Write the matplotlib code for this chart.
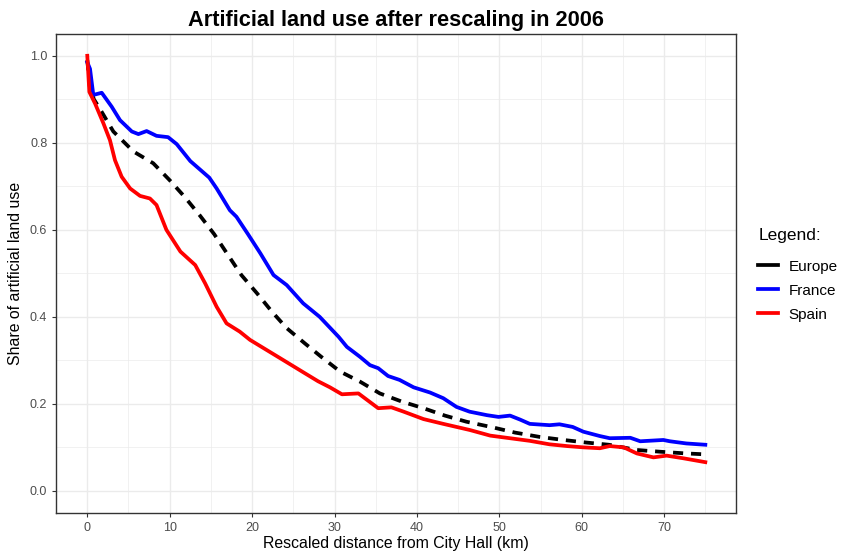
import matplotlib.pyplot as plt
from matplotlib.lines import Line2D

plt.rcParams['font.family'] = ['Liberation Sans', 'DejaVu Sans']

# Valores
france_x = [0, 0.33, 0.73, 1.75, 2.96, 3.97, 5.4, 6.2, 7.2, 8.4, 9.8, 10.85, 12.5, 14.8, 15.7,
            17.3, 18.1, 19.5, 21.0, 22.6, 24.2, 26.2, 28.2, 30.5, 31.5, 33.1, 34.3, 35.3, 36.5,
            37.9, 39.6, 41.6, 43.2, 44.8, 46.4, 48.5, 49.9, 51.3, 52.5, 53.7, 56.1, 57.3, 58.9,
            60.2, 62.2, 63.4, 65.9, 67.1, 69.9, 70.7, 72.7, 75.0]
france_y = [0.985, 0.97, 0.91, 0.915, 0.883, 0.852, 0.826, 0.82, 0.827, 0.816, 0.813, 0.797,
            0.758, 0.72, 0.695, 0.645, 0.63, 0.59, 0.546, 0.496, 0.473, 0.431, 0.4, 0.354, 0.331,
            0.308, 0.289, 0.282, 0.264, 0.255, 0.238, 0.226, 0.213, 0.193, 0.182, 0.174, 0.17,
            0.173, 0.164, 0.154, 0.151, 0.153, 0.147, 0.136, 0.126, 0.121, 0.122, 0.114, 0.117,
            0.114, 0.109, 0.106]

europe_x = [0, 0.3, 0.8, 1.75, 3.16, 5.6, 8.0, 10.0, 11.8, 13.7, 15.4, 16.8, 18.7, 20.6, 22.4,
            24.2, 26.4, 28.4, 30.7, 33.1, 35.5, 38.2, 40.8, 43.4, 46.0, 49.2, 51.9, 54.9, 57.8,
            60.6, 63.3, 66.7, 69.5, 72.7, 75.0]
europe_y = [0.99, 0.93, 0.9, 0.871, 0.826, 0.78, 0.753, 0.714, 0.676, 0.632, 0.59, 0.55, 0.496,
            0.454, 0.412, 0.374, 0.339, 0.308, 0.274, 0.251, 0.224, 0.205, 0.19, 0.173, 0.159,
            0.146, 0.134, 0.124, 0.117, 0.111, 0.106, 0.094, 0.09, 0.086, 0.084]

spain_x = [0, 0.25, 0.95, 1.95, 2.75, 3.36, 4.17, 5.2, 6.4, 7.6, 8.4, 9.6, 11.3, 13.1, 14.3,
           15.7, 16.9, 18.5, 19.75, 21.4, 23.4, 26.0, 28.0, 29.45, 30.9, 32.9, 35.3, 36.9, 38.4,
           40.8, 43.2, 46.4, 48.9, 51.3, 53.7, 56.1, 58.2, 60.2, 62.2, 63.4, 65.1, 66.7, 68.7,
           70.3, 72.3, 75.0]
spain_y = [1.0, 0.917, 0.89, 0.845, 0.806, 0.76, 0.722, 0.695, 0.678, 0.672, 0.657, 0.6, 0.55,
           0.519, 0.477, 0.423, 0.385, 0.366, 0.347, 0.328, 0.305, 0.275, 0.252, 0.238, 0.222,
           0.224, 0.19, 0.192, 0.182, 0.165, 0.154, 0.14, 0.127, 0.121, 0.115, 0.107, 0.103,
           0.1, 0.098, 0.103, 0.1, 0.086, 0.077, 0.081, 0.075, 0.066]

fig = plt.figure(figsize=(8.48, 5.56), dpi=100)
ax = fig.add_axes([0.0665, 0.078, 0.8017, 0.8608])

ax.plot(europe_x, europe_y, color='black', lw=2.7, linestyle=(0, (2.7, 2.1)))
ax.plot(france_x, france_y, color='#0000FF', lw=2.7, solid_joinstyle='round')
ax.plot(spain_x, spain_y, color='#FF0000', lw=2.7, solid_joinstyle='round')

ax.set_xlim(-3.75, 78.75)
ax.set_ylim(-0.05, 1.05)
ax.set_xticks(range(0, 80, 10))
ax.set_yticks([0, 0.2, 0.4, 0.6, 0.8, 1.0])
ax.set_yticklabels(['0.0', '0.2', '0.4', '0.6', '0.8', '1.0'])
ax.set_xticks(range(5, 80, 10), minor=True)
ax.set_yticks([0.1, 0.3, 0.5, 0.7, 0.9], minor=True)
ax.grid(True, which='major', color='#EBEBEB', lw=1.0)
ax.grid(True, which='minor', color='#EBEBEB', lw=0.5)
ax.set_axisbelow(True)
ax.tick_params(which='major', length=3, color='#333333', labelcolor='#4D4D4D', labelsize=9)
ax.tick_params(which='minor', length=0)
for s in ax.spines.values():
    s.set_color('#333333')
    s.set_linewidth(1.0)

ax.set_xlabel('Rescaled distance from City Hall (km)', fontsize=11.4, labelpad=2)
ax.set_ylabel('Share of artificial land use', fontsize=11.4, labelpad=5)
ax.set_title('Artificial land use after rescaling in 2006', fontsize=15.7, fontweight='bold', pad=6)

handles = [Line2D([], [], color='black', lw=2.7),
           Line2D([], [], color='#0000FF', lw=2.7),
           Line2D([], [], color='#FF0000', lw=2.7)]
leg = ax.legend(handles, ['Europe', 'France', 'Spain'], title='Legend:',
                loc='center left', bbox_to_anchor=(1.012, 0.497), frameon=False,
                fontsize=11, title_fontsize=12.5, handlelength=1.3, labelspacing=0.66,
                handletextpad=0.7)
leg._legend_box.align = 'left'
leg._legend_box.sep = 12

fig.savefig('out.png', dpi=100)
